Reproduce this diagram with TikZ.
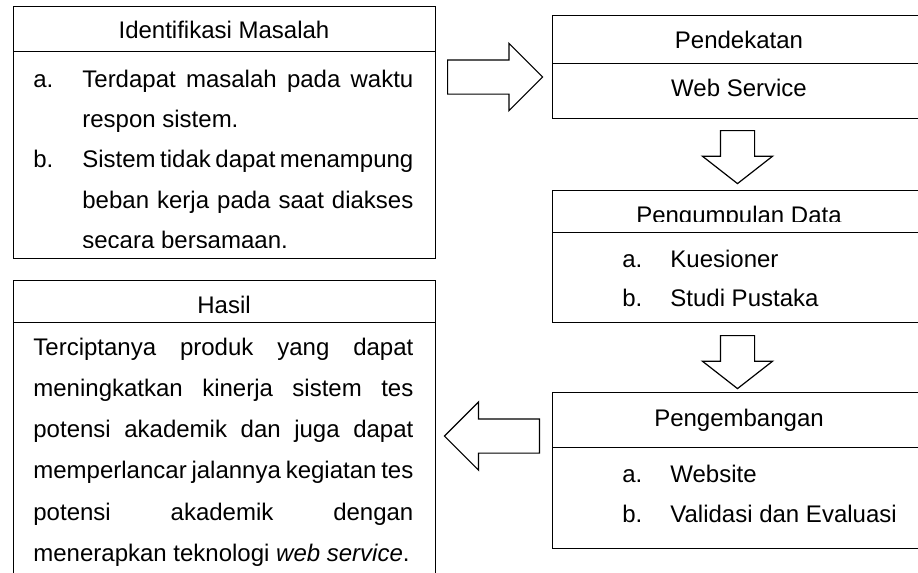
\documentclass[tikz,border=0pt]{standalone}
\usepackage{fontspec}
\setmainfont{Liberation Sans}
\usetikzlibrary{shapes.arrows, positioning}

\newcommand{\fullline}[2]{\makebox[#1][s]{#2}}

\tikzset{
  boxpart/.style={draw, line width=0.7pt, inner sep=0pt, anchor=north west},
  titletext/.style={inner sep=0pt, anchor=base},
  bodytext/.style={inner sep=0pt, anchor=base west, text width=#1, align=justify},
  blockarrow/.style={draw, line width=0.6pt, single arrow, single arrow head indent=0pt,
    inner xsep=0pt, inner ysep=8.25pt, anchor=tail},
}

\begin{document}
\begin{tikzpicture}[x=0.5pt, y=-0.5pt, font=\fontsize{12}{20.2}\selectfont]
    \useasboundingbox (0,0) rectangle (918,573);
    \clip (0,0) rectangle (918,573);

    % left column
    \node[boxpart, minimum width=211pt, minimum height=22.5pt] (idhead) at (13,6) {};
    \node[boxpart, minimum width=211pt, minimum height=103.5pt] (idbody) at (13,51) {};
    \node[titletext] (idtitle) at (224,39) {Identifikasi Masalah};
    \begin{scope}
        \clip (13,51) rectangle (435,247);
        \node[bodytext=190pt] (idlist) at (33,87) {\spaceskip=0pt
            \makebox[24.5pt][l]{a.}\fullline{165.5pt}{Terdapat masalah pada waktu}\\
            \hspace*{24.5pt}\mbox{respon sistem.}\\
            \makebox[24.5pt][l]{b.}\fullline{165.5pt}{Sistem tidak dapat menampung}\\
            \hspace*{24.5pt}\fullline{165.5pt}{beban kerja pada saat diakses}\\
            \hspace*{24.5pt}\mbox{secara bersamaan.}};
    \end{scope}

    \node[boxpart, minimum width=211pt, minimum height=21pt] (hshead) at (13,280) {};
    \node[boxpart, minimum width=211pt, minimum height=150pt] (hsbody) at (13,322) {};
    \node[titletext] (hstitle) at (224,313) {Hasil};
    \node[bodytext=190pt, font=\fontsize{12}{20.65}\selectfont] (hstext) at (33,355) {\spaceskip=0pt
        \fullline{190pt}{Terciptanya produk yang dapat}\\
        \fullline{190pt}{meningkatkan kinerja sistem tes}\\
        \fullline{190pt}{potensi akademik dan juga dapat}\\
        \fullline{190pt}{memperlancar jalannya kegiatan tes}\\
        \fullline{190pt}{potensi akademik dengan}\\
        \mbox{menerapkan teknologi \textit{web service}.}};

    % right column
    \node[boxpart, minimum width=187pt, minimum height=24pt] (pdhead) at (552,15) {};
    \node[boxpart, minimum width=187pt, minimum height=27.5pt] (pdbody) at (552,63) {};
    \node[titletext] (pdtitle) at (739,48) {Pendekatan};
    \node[titletext] (pdtext) at (739,97) {Web Service};

    \node[boxpart, minimum width=187pt, minimum height=21pt] (pghead) at (552,190) {};
    \node[boxpart, minimum width=187pt, minimum height=45pt] (pgbody) at (552,232) {};
    \begin{scope}
        \clip (552,190) rectangle (926,221);
        \node[titletext] (pgtitle) at (739,223.5) {Pengumpulan Data};
    \end{scope}
    \node[bodytext=150pt, font=\fontsize{12}{20}\selectfont] (pglist) at (622,267) {%
        \makebox[24pt][l]{a.}Kuesioner\\
        \makebox[24pt][l]{b.}Studi Pustaka};

    \node[boxpart, minimum width=187pt, minimum height=27.5pt] (pmhead) at (552,392) {};
    \node[boxpart, minimum width=187pt, minimum height=50.5pt] (pmbody) at (552,447) {};
    \node[titletext] (pmtitle) at (739,426) {Pengembangan};
    \node[bodytext=150pt, font=\fontsize{12}{20}\selectfont] (pmlist) at (622,482) {%
        \makebox[24pt][l]{a.}Website\\
        \makebox[24pt][l]{b.}Validasi dan Evaluasi};

    % block arrows
    \node[blockarrow, minimum height=47.5pt, single arrow head extend=8.25pt] (arr1) at (447,77) {};
    \node[blockarrow, rotate=-90, minimum height=26.5pt, single arrow head extend=9pt,
          single arrow tip angle=104] (arr2) at (737.5,130) {};
    \node[blockarrow, rotate=-90, minimum height=26.5pt, single arrow head extend=9pt,
          single arrow tip angle=104] (arr3) at (737.5,335) {};
    \node[blockarrow, rotate=180, minimum height=47.5pt, single arrow head extend=8.5pt] (arr4) at (540,436) {};
\end{tikzpicture}
\end{document}
